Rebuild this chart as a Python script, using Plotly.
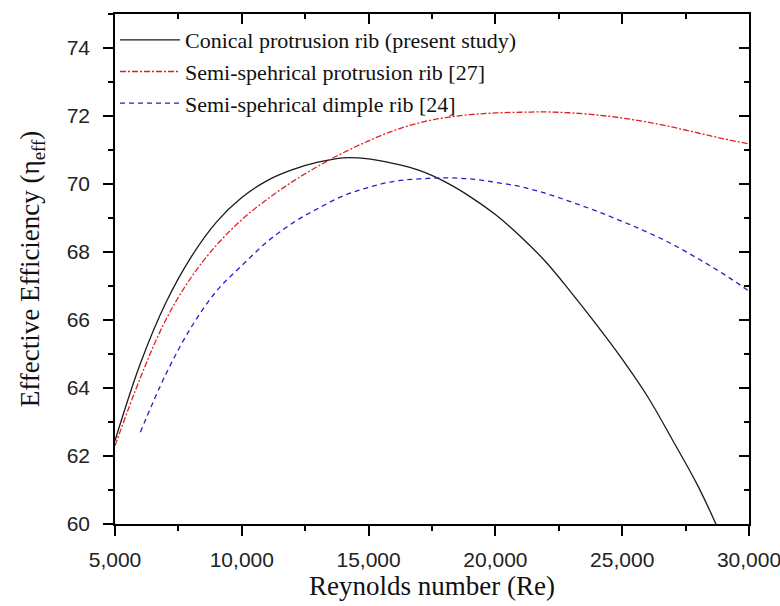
import plotly.graph_objects as go

# Reynolds number grid
re_conical = [5000, 6000, 7000, 8000, 9000, 10000, 11000, 12000, 13000, 14000, 15000,
              16000, 17000, 18000, 19000, 20000, 21000, 22000, 23000, 24000, 25000,
              26000, 27000, 28000, 29000, 30000]
eta_conical = [62.45, 64.72, 66.5, 67.85, 68.88, 69.6, 70.1, 70.42, 70.64, 70.77, 70.74,
               70.6, 70.4, 70.07, 69.63, 69.1, 68.45, 67.7, 66.8, 65.85, 64.85,
               63.75, 62.45, 61.1, 59.5, 57.8]

re_protrusion = [5000, 6000, 7000, 8000, 9000, 10000, 11000, 12000, 13000, 14000, 15000,
                 16000, 17000, 18000, 19000, 20000, 21000, 22000, 23000, 24000, 25000,
                 26000, 27000, 28000, 29000, 30000]
eta_protrusion = [62.3, 64.3, 66.0, 67.25, 68.2, 68.95, 69.55, 70.07, 70.52, 70.92, 71.27,
                  71.57, 71.8, 71.95, 72.04, 72.09, 72.11, 72.12, 72.09, 72.03, 71.94,
                  71.82, 71.67, 71.5, 71.33, 71.18]

re_dimple = [6000, 7000, 8000, 9000, 10000, 11000, 12000, 13000, 14000, 15000,
             16000, 17000, 18000, 19000, 20000, 21000, 22000, 23000, 24000, 25000,
             26000, 27000, 28000, 29000, 30000]
eta_dimple = [62.7, 64.4, 65.78, 66.85, 67.6, 68.3, 68.85, 69.28, 69.65, 69.9,
              70.08, 70.15, 70.18, 70.15, 70.05, 69.92, 69.72, 69.47, 69.2, 68.9,
              68.58, 68.22, 67.8, 67.35, 66.85]

names = ["Conical protrusion rib (present study)",
         "Semi-spehrical protrusion rib [27]",
         "Semi-spehrical dimple rib [24]"]

x_ticks = [5000, 10000, 15000, 20000, 25000, 30000]
y_ticks = [60, 62, 64, 66, 68, 70, 72, 74]

serif = "Liberation Serif"
sans = "Liberation Sans"

fig = go.Figure()
fig.add_trace(go.Scatter(x=re_conical, y=eta_conical, mode="lines", name=names[0],
                         line=dict(color="#1a1a1a", width=1.3, shape="spline")))
fig.add_trace(go.Scatter(x=re_protrusion, y=eta_protrusion, mode="lines", name=names[1],
                         line=dict(color="#e02020", width=1.3, shape="spline",
                                   dash="6px,2px,2px,2px")))
fig.add_trace(go.Scatter(x=re_dimple, y=eta_dimple, mode="lines", name=names[2],
                         line=dict(color="#2222cc", width=1.3, shape="spline",
                                   dash="5px,4px")))
# transparent trace hosting the top/right axes (inside ticks)
fig.add_trace(go.Scatter(x=re_conical, y=eta_conical, mode="lines", xaxis="x2", yaxis="y2",
                         line=dict(width=1, color="rgba(0,0,0,0)"),
                         showlegend=False, hoverinfo="skip"))

tick_style = dict(tickwidth=1.5, tickcolor="black")

fig.update_layout(
    width=780, height=606,
    margin=dict(l=115, r=31, t=14, b=82, autoexpand=False),
    paper_bgcolor="white", plot_bgcolor="rgba(0,0,0,0)",
    showlegend=True,
    legend=dict(x=0.0, y=0.99, xanchor="left", yanchor="top",
                font=dict(family=serif, size=22, color="#111"),
                bgcolor="rgba(0,0,0,0)", borderwidth=0, itemwidth=60,
                tracegroupgap=0),
    xaxis=dict(range=[5000, 30000], tickvals=x_ticks, tickformat=",d",
               domain=[0, 1], anchor="y",
               ticks="outside", ticklen=10, **tick_style,
               minor=dict(dtick=2500, tick0=5000, ticks="outside", ticklen=5, **tick_style),
               showline=True, mirror=True, linecolor="black", linewidth=1.5,
               showgrid=False, zeroline=False, automargin=False,
               ticklabeloverflow="allow", ticklabelstandoff=6,
               tickfont=dict(family=sans, size=21, color="#222"),
               title=dict(text="Reynolds number (Re)", standoff=0,
                          font=dict(family=serif, size=27, color="#111"))),
    yaxis=dict(range=[60, 75], tickvals=y_ticks, domain=[0, 1], anchor="x",
               ticks="outside", ticklen=10, **tick_style,
               minor=dict(dtick=1, tick0=60, ticks="outside", ticklen=5, **tick_style),
               showline=True, mirror=True, linecolor="black", linewidth=1.5,
               showgrid=False, zeroline=False, automargin=False,
               ticklabelstandoff=9,
               tickfont=dict(family=sans, size=21, color="#222"),
               title=dict(text="Effective Efficiency (η<sub>eff</sub>)", standoff=19,
                          font=dict(family=serif, size=27, color="#111"))),
    xaxis2=dict(range=[5000, 30000], tickvals=x_ticks, domain=[0, 1], anchor="y2",
                side="top", showticklabels=False, showgrid=False, zeroline=False,
                automargin=False, showline=False,
                ticks="inside", ticklen=10, **tick_style,
                minor=dict(dtick=2500, tick0=5000, ticks="inside", ticklen=5, **tick_style)),
    yaxis2=dict(range=[60, 75], tickvals=y_ticks, domain=[0, 1], anchor="x2",
                side="right", showticklabels=False, showgrid=False, zeroline=False,
                automargin=False, showline=False,
                ticks="inside", ticklen=10, **tick_style,
                minor=dict(dtick=1, tick0=60, ticks="inside", ticklen=5, **tick_style)),
)

fig.write_html("out.html", config={"displayModeBar": False},
               post_script="document.body.style.margin='0';")
